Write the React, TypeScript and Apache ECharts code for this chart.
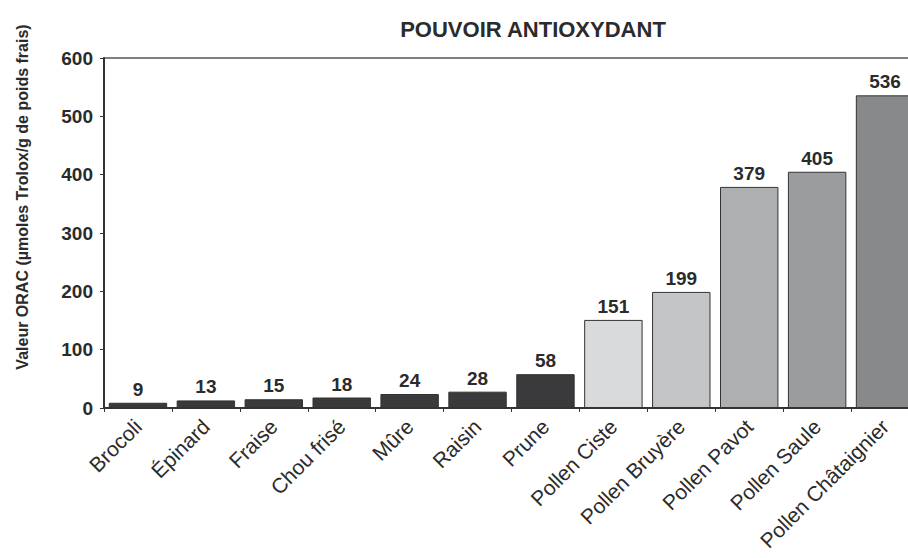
import React, { useEffect, useRef } from "react";
import * as echarts from "echarts";

const categories = [
  "Brocoli", "Épinard", "Fraise", "Chou frisé", "Mûre", "Raisin", "Prune",
  "Pollen Ciste", "Pollen Bruyère", "Pollen Pavot", "Pollen Saule", "Pollen Châtaignier",
];
const values = [9, 13, 15, 18, 24, 28, 58, 151, 199, 379, 405, 536];
const barColors = [
  "#3a3a3c", "#3a3a3c", "#3a3a3c", "#3a3a3c", "#3a3a3c", "#3a3a3c", "#3a3a3c",
  "#d9dadc", "#c4c5c7", "#aeafb1", "#9b9c9e", "#88898b",
];
const yTicks = [0, 100, 200, 300, 400, 500, 600];
const titleText = "POUVOIR ANTIOXYDANT";
const yAxisName = "Valeur ORAC (µmoles Trolox/g de poids frais)";

const FONT = "'Liberation Sans', Arial, sans-serif";

export default function App() {
  const ref = useRef<HTMLDivElement>(null);
  useEffect(() => {
    if (!ref.current) return;
    const chart = echarts.init(ref.current, null, { renderer: "svg" });
    chart.setOption({
      animation: false,
      backgroundColor: "#ffffff",
      title: {
        text: titleText,
        left: 528,
        top: 13,
        textAlign: "center",
        textStyle: { fontFamily: FONT, fontSize: 22, fontWeight: "bold", color: "#2b2b2b" },
      },
      graphic: [
        {
          type: "text",
          x: 22,
          y: 197,
          rotation: Math.PI / 2,
          style: {
            text: yAxisName,
            font: `bold 16px ${FONT}`,
            fill: "#2b2b2b",
            align: "center",
            verticalAlign: "middle",
          },
        },
      ],
      grid: {
        left: 104,
        top: 58,
        width: 815,
        height: 350,
        show: true,
        borderColor: "#555",
        borderWidth: 1.5,
        containLabel: false,
        outerBoundsMode: "none",
      },
      xAxis: {
        type: "category",
        data: categories,
        axisLine: { lineStyle: { color: "#333", width: 2 } },
        axisTick: { show: true, length: 4, lineStyle: { color: "#333" } },
        axisLabel: {
          rotate: 45,
          interval: 0,
          margin: 15,
          fontFamily: FONT,
          fontSize: 21,
          color: "#2b2b2b",
        },
      },
      yAxis: {
        type: "value",
        min: yTicks[0],
        max: yTicks[yTicks.length - 1],
        interval: 100,
        axisLine: { show: true, lineStyle: { color: "#333", width: 2 } },
        axisTick: { show: true, length: 4, lineStyle: { color: "#333" } },
        splitLine: { show: false },
        axisLabel: {
          margin: 11,
          fontFamily: FONT,
          fontSize: 19,
          fontWeight: "bold",
          color: "#2b2b2b",
        },
      },
      series: [
        {
          type: "bar",
          data: values.map((v, i) => ({
            value: v,
            itemStyle: { color: barColors[i] },
          })),
          barCategoryGap: "14%",
          itemStyle: { borderColor: "#333", borderWidth: 1 },
          label: {
            show: true,
            position: "top",
            distance: 4,
            fontFamily: FONT,
            fontSize: 19,
            fontWeight: "bold",
            color: "#2b2b2b",
          },
        },
      ],
    });
    return () => chart.dispose();
  }, []);
  return (
    <div
      ref={ref}
      style={{ position: "fixed", left: 0, top: 0, width: 908, height: 558 }}
    />
  );
}
